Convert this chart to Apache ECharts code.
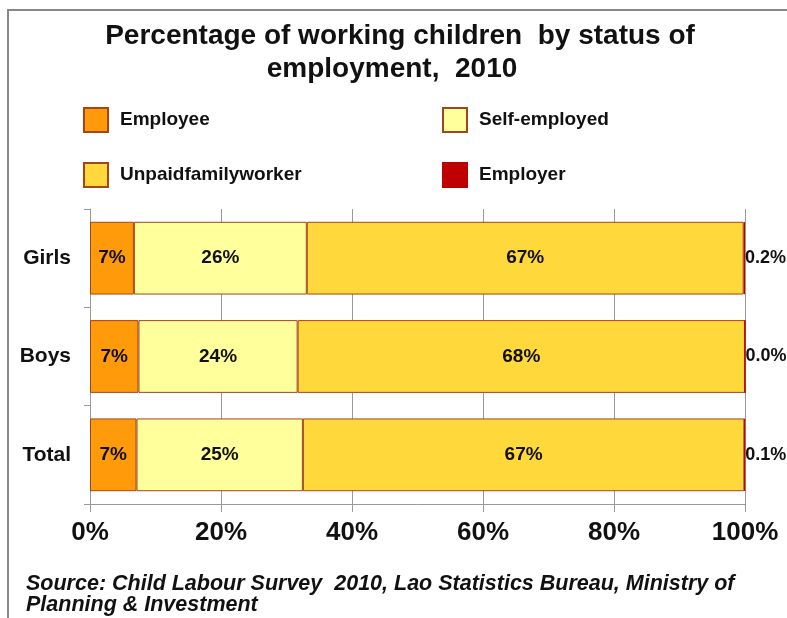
<!DOCTYPE html>
<html>
<head>
<meta charset="utf-8">
<script src="https://cdn.jsdelivr.net/npm/echarts@6/dist/echarts.min.js"></script>
<style>
  html, body { margin: 0; padding: 0; background: #fff; }
  #chart { width: 787px; height: 618px; }
</style>
</head>
<body>
<div id="chart"></div>
<script>
// categories, top to bottom
var categories = ['Girls', 'Boys', 'Total'];

// percentages
var employee     = [6.7, 7.4, 7.1];
var selfEmployed = [26.4, 24.3, 25.4];
var unpaidFamily = [66.7, 68.3, 67.4];
var employer     = [0.2, 0.0, 0.1];

var seriesNames = ['Employee', 'Self-employed', 'Unpaidfamilyworker', 'Employer'];
var seriesColors = ['#ff9a0a', '#ffff9c', '#ffd83c', '#c00000'];

var FONT = "'Liberation Sans', Arial, sans-serif";

var chart = echarts.init(document.getElementById('chart'));

// legend laid out as a 2x2 grid
function legendAt(name, left, top) {
    return {
        data: [name],
        left: left,
        top: top,
        padding: 0,
        icon: 'rect',
        itemWidth: 24,
        itemHeight: 24,
        selectedMode: false,
        textStyle: { fontFamily: FONT, fontSize: 19, fontWeight: 'bold', color: '#111', padding: [0, 0, 0, 7] }
    };
}

function barLabel(fmt) {
    return {
        show: true,
        position: 'inside',
        fontFamily: FONT,
        fontSize: 19,
        fontWeight: 'bold',
        color: '#111',
        formatter: fmt
    };
}

function roundPct(p) { return Math.round(p.value) + '%'; }

var option = {
    animation: false,
    backgroundColor: '#fff',
    title: [
        {
            text: 'Percentage of working children  by status of',
            left: 400, top: 22, padding: 0, textAlign: 'center',
            textStyle: { fontFamily: FONT, fontSize: 28, fontWeight: 'bold', color: '#111' }
        },
        {
            text: 'employment,  2010',
            left: 392, top: 55, padding: 0, textAlign: 'center',
            textStyle: { fontFamily: FONT, fontSize: 28, fontWeight: 'bold', color: '#111' }
        }
    ],
    legend: [
        legendAt(seriesNames[0], 83, 107),
        legendAt(seriesNames[1], 442, 107),
        legendAt(seriesNames[2], 83, 162),
        legendAt(seriesNames[3], 442, 162)
    ],
    grid: { left: 90, right: 42, top: 209, bottom: 114, containLabel: false },
    xAxis: {
        type: 'value',
        min: 0,
        max: 100,
        interval: 20,
        axisLine: { show: true, lineStyle: { color: '#999', width: 1 } },
        axisTick: { show: true, length: 8, lineStyle: { color: '#999' } },
        splitLine: { show: true, lineStyle: { color: '#999', width: 1 } },
        axisLabel: {
            formatter: '{value}%',
            margin: 16,
            fontFamily: FONT,
            fontSize: 26,
            fontWeight: 'bold',
            color: '#111'
        }
    },
    yAxis: {
        type: 'category',
        data: categories,
        inverse: true,
        axisLine: { show: true, lineStyle: { color: '#999', width: 1 } },
        axisTick: { show: true, length: 6, lineStyle: { color: '#999' } },
        axisLabel: { margin: 19, fontFamily: FONT, fontSize: 21, fontWeight: 'bold', color: '#111' }
    },
    series: [
        {
            name: seriesNames[0], type: 'bar', stack: 'all', barWidth: '74%',
            data: employee,
            itemStyle: { color: seriesColors[0], borderColor: '#a5441c', borderWidth: 1 },
            label: barLabel(roundPct)
        },
        {
            name: seriesNames[1], type: 'bar', stack: 'all',
            data: selfEmployed,
            itemStyle: { color: seriesColors[1], borderColor: '#a5441c', borderWidth: 1 },
            label: barLabel(roundPct)
        },
        {
            name: seriesNames[2], type: 'bar', stack: 'all',
            data: unpaidFamily,
            itemStyle: { color: seriesColors[2], borderColor: '#a5441c', borderWidth: 1 },
            label: barLabel(roundPct)
        },
        {
            name: seriesNames[3], type: 'bar', stack: 'all',
            data: employer,
            itemStyle: { color: seriesColors[3], borderColor: '#c00000', borderWidth: 1 },
            label: {
                show: true,
                position: 'right',
                distance: 0,
                fontFamily: FONT,
                fontSize: 18,
                fontWeight: 'bold',
                color: '#111',
                formatter: function (p) { return p.value.toFixed(1) + '%'; }
            }
        }
    ],
    graphic: [
        {
            type: 'rect',
            shape: { x: 8, y: 10, width: 820, height: 640 },
            style: { fill: 'none', stroke: '#888', lineWidth: 2 },
            silent: true
        },
        {
            type: 'text',
            left: 26,
            top: 573,
            style: {
                text: 'Source: Child Labour Survey  2010, Lao Statistics Bureau, Ministry of\nPlanning & Investment',
                font: 'italic bold 21.5px ' + FONT,
                lineHeight: 21,
                fill: '#111'
            }
        }
    ]
};

chart.setOption(option);
</script>
</body>
</html>
